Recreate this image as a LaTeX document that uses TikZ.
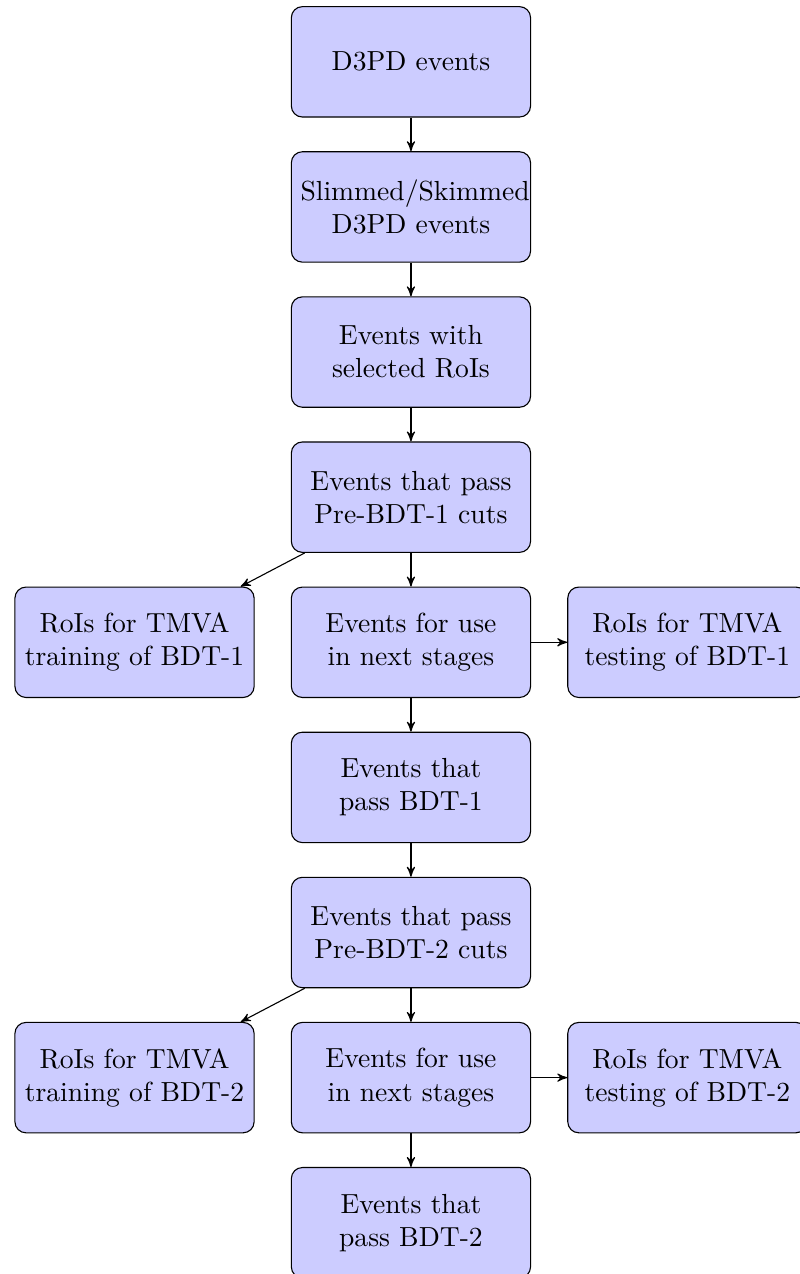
\documentclass[tikz,border=0pt]{standalone}
\usepackage{tikz}
\usetikzlibrary{arrows,positioning}

\begin{document}
\begin{tikzpicture}[->,>=stealth', line width=0.4pt,
                    node distance=0.428cm and 0.46cm]
\tikzstyle{block}=[rectangle, draw, fill=blue!20, text width=8em,
                   text centered, rounded corners, minimum height=4em]
\useasboundingbox (-148.9pt,-439.2pt) rectangle (140.6pt,22.4pt);
\node [block] (d3pd) {D3PD events};
\node [block] (slim) [below=of d3pd] {Slimmed/Skimmed D3PD events};
\node [block] (rois) [below=of slim] {Events with selected RoIs};
\node [block] (precut1) [below=of rois] {Events that pass Pre-BDT-1 cuts};
\node [block] (use1) [below=of precut1] {Events for use in next stages};
\node [block] (train1) [left=of use1] {RoIs for TMVA training of BDT-1};
\node [block] (test1) [right=of use1] {RoIs for TMVA testing of BDT-1};
\node [block] (bdt1) [below=of use1] {Events that pass BDT-1};
\node [block] (precut2) [below=of bdt1] {Events that pass Pre-BDT-2 cuts};
\node [block] (use2) [below=of precut2] {Events for use in next stages};
\node [block] (train2) [left=of use2] {RoIs for TMVA training of BDT-2};
\node [block] (test2) [right=of use2] {RoIs for TMVA testing of BDT-2};
\node [block] (bdt2) [below=of use2] {Events that pass BDT-2};

\path (d3pd) edge (slim);
\path (slim) edge (rois);
\path (rois) edge (precut1);
\path (precut1) edge (use1);
\path (precut1) edge (train1);
\path (use1) edge (test1);
\path (use1) edge (bdt1);
\path (bdt1) edge (precut2);
\path (precut2) edge (use2);
\path (precut2) edge (train2);
\path (use2) edge (test2);
\path (use2) edge (bdt2);
\end{tikzpicture}
\end{document}
